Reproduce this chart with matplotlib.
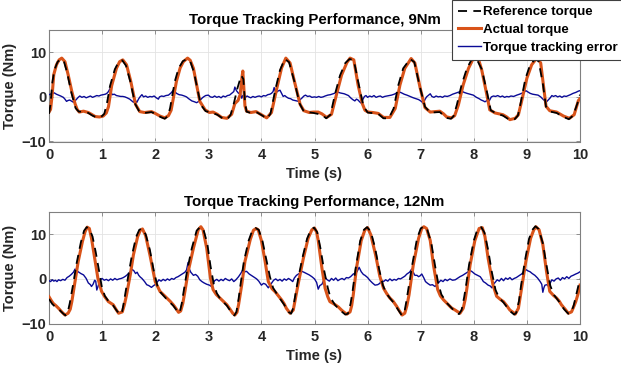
import numpy as np
import matplotlib
matplotlib.use('Agg')
import matplotlib.pyplot as plt

plt.rcParams['font.family'] = ['Liberation Sans', 'DejaVu Sans']
plt.rcParams['font.weight'] = 'bold'
plt.rcParams['font.size'] = 10.5

titles = ['Torque Tracking Performance, 9Nm', 'Torque Tracking Performance, 12Nm']
labels = ['Reference torque', 'Actual torque', 'Torque tracking error']

# (time s, torque Nm)
ref9 = np.array([
    (0, -3.8), (0.03, -1.5), (0.06, 3.0), (0.1, 6.0), (0.16, 7.8), (0.22, 8.5), (0.28, 8.0), (0.34, 5.5),
    (0.42, 1.0), (0.5, -2.5), (0.56, -3.3), (0.65, -3.3), (0.74, -3.6), (0.82, -4.2), (0.9, -4.6), (0.98, -4.5),
    (1.04, -3.8), (1.09, -1.5), (1.15, 2.5), (1.24, 6.2), (1.31, 7.8), (1.38, 8.2), (1.45, 7.0), (1.53, 3.5),
    (1.62, -1.5), (1.7, -3.3), (1.8, -3.6), (1.93, -3.4), (2.02, -3.9), (2.1, -4.5), (2.18, -4.9), (2.24, -4.3),
    (2.28, -2.5), (2.37, 3.5), (2.44, 6.4), (2.52, 8.0), (2.6, 8.5), (2.66, 8.0), (2.73, 5.5), (2.8, 1.5),
    (2.86, -1.8), (2.95, -3.2), (3.05, -3.5), (3.17, -4.0), (3.27, -4.8), (3.36, -5.0), (3.42, -4.0), (3.48, -1.5),
    (3.55, 2.0), (3.62, 4.8), (3.66, 4.0), (3.69, -1.0), (3.72, -3.3), (3.8, -3.6), (3.92, -3.5), (4.02, -4.2),
    (4.1, -4.9), (4.17, -3.8), (4.26, 1.5), (4.35, 6.0), (4.44, 8.5), (4.52, 7.8), (4.62, 3.5), (4.72, -1.5),
    (4.8, -3.3), (4.98, -3.6), (5.14, -4.0), (5.22, -4.8), (5.3, -4.0), (5.39, 0.8), (5.48, 4.8), (5.58, 7.6),
    (5.66, 8.5), (5.74, 8.2), (5.83, 3.0), (5.92, -2.0), (6.0, -3.5), (6.2, -3.8), (6.3, -4.8), (6.4, -4.8),
    (6.49, -2.6), (6.58, 2.7), (6.67, 6.4), (6.8, 8.5), (6.88, 7.8), (6.98, 2.5), (7.08, -2.2), (7.18, -3.5),
    (7.36, -3.4), (7.48, -4.7), (7.57, -4.9), (7.62, -4.3), (7.68, -1.8), (7.77, 2.7), (7.87, 6.4), (7.97, 8.6),
    (8.04, 8.8), (8.15, 6.2), (8.25, 1.0), (8.32, -3.0), (8.42, -3.7), (8.55, -4.2), (8.68, -5.2), (8.77, -5.0),
    (8.83, -4.2), (8.88, -1.5), (8.97, 4.0), (9.06, 7.2), (9.16, 8.5), (9.22, 8.0), (9.3, 3.0), (9.36, -2.2),
    (9.44, -3.3), (9.56, -3.6), (9.69, -4.5), (9.79, -5.0), (9.87, -4.2), (9.95, -1.5), (10.0, 0.5)])

act9 = np.array([
    (0, -3.4), (0.03, -2.8), (0.06, 0.5), (0.09, 5.0), (0.14, 7.2), (0.19, 8.3), (0.24, 8.7), (0.3, 7.9),
    (0.36, 5.0), (0.43, 1.2), (0.49, -1.5), (0.53, -2.8), (0.57, -3.4), (0.65, -3.2), (0.74, -3.5), (0.8, -3.9),
    (0.87, -4.4), (0.95, -4.5), (1.02, -4.3), (1.08, -3.6), (1.12, -2.2), (1.18, 2.5), (1.27, 6.4), (1.33, 7.9),
    (1.39, 8.3), (1.46, 7.2), (1.54, 3.5), (1.63, -1.7), (1.71, -3.3), (1.8, -3.5), (1.93, -3.3), (2.0, -3.7),
    (2.09, -4.3), (2.18, -4.7), (2.25, -4.2), (2.3, -3.0), (2.4, 3.5), (2.47, 6.5), (2.53, 7.9), (2.61, 8.7),
    (2.66, 8.2), (2.72, 6.4), (2.78, 2.7), (2.84, -1.0), (2.94, -2.9), (3.02, -3.5), (3.09, -3.4), (3.17, -3.9),
    (3.25, -4.6), (3.35, -4.8), (3.44, -3.9), (3.5, -1.5), (3.56, -0.8), (3.6, 0.5), (3.63, 4.0), (3.65, 5.8),
    (3.67, 2.0), (3.69, -2.0), (3.72, -3.2), (3.8, -3.5), (3.9, -3.3), (4.0, -4.0), (4.1, -4.7), (4.19, -3.5),
    (4.29, 1.9), (4.38, 6.5), (4.46, 8.7), (4.54, 7.6), (4.63, 3.1), (4.73, -1.7), (4.8, -3.1), (4.9, -3.5),
    (4.98, -3.4), (5.07, -3.4), (5.14, -3.8), (5.23, -4.6), (5.32, -3.9), (5.42, 0.8), (5.51, 4.9), (5.61, 7.7),
    (5.67, 8.7), (5.74, 8.3), (5.82, 2.7), (5.9, -1.5), (5.95, -3.0), (6.01, -3.4), (6.1, -3.5), (6.2, -3.7),
    (6.3, -4.6), (6.42, -4.6), (6.52, -2.6), (6.61, 2.7), (6.7, 6.4), (6.82, 8.6), (6.89, 7.6), (6.99, 2.0),
    (7.08, -2.4), (7.18, -3.4), (7.28, -3.3), (7.36, -3.2), (7.43, -3.8), (7.49, -4.5), (7.58, -4.7), (7.64, -4.2),
    (7.71, -1.8), (7.8, 2.7), (7.9, 6.4), (7.99, 8.6), (8.05, 8.9), (8.1, 8.0), (8.15, 6.0), (8.24, 0.8),
    (8.3, -2.9), (8.4, -3.6), (8.55, -4.0), (8.62, -4.5), (8.68, -5.1), (8.78, -4.8), (8.84, -4.0), (8.9, -1.0),
    (9.0, 4.2), (9.09, 7.2), (9.16, 8.3), (9.2, 8.6), (9.26, 7.6), (9.31, 2.7), (9.36, -2.1), (9.43, -3.1),
    (9.56, -3.4), (9.69, -4.3), (9.8, -4.8), (9.89, -4.0), (9.97, -0.8), (10.0, -0.4)])

err9 = np.array([
    (0, 0.5), (0.05, 0.7), (0.1, 0.9), (0.14, 0.6), (0.18, 0.4), (0.22, 0.2), (0.27, -0.1), (0.3, -0.5),
    (0.33, -1.0), (0.36, -0.8), (0.39, -0.7), (0.43, -1.0), (0.46, -1.2), (0.49, -0.9), (0.52, -0.5), (0.55, -0.1),
    (0.58, 0.2), (0.62, -0.1), (0.66, 0.1), (0.7, -0.2), (0.74, 0.0), (0.78, 0.2), (0.82, -0.1), (0.86, 0.1),
    (0.9, 0.3), (0.94, 0.2), (0.98, 0.4), (1.02, 0.5), (1.06, 0.6), (1.09, 0.8), (1.12, 1.2), (1.15, 1.9),
    (1.17, 1.0), (1.19, 0.5), (1.23, 0.6), (1.27, 0.3), (1.31, 0.2), (1.35, 0.1), (1.39, 0.1), (1.43, 0.0),
    (1.47, -0.2), (1.52, -0.5), (1.56, -0.9), (1.59, -1.2), (1.62, -0.6), (1.65, -1.3), (1.69, -0.4), (1.72, 0.1),
    (1.75, 0.5), (1.78, 0.0), (1.82, 0.2), (1.86, -0.1), (1.9, 0.1), (1.94, 0.0), (1.98, 0.2), (2.02, -0.2),
    (2.06, -0.5), (2.08, 0.0), (2.12, 0.2), (2.16, 0.1), (2.2, 0.3), (2.25, 0.4), (2.3, 0.9), (2.34, 1.5),
    (2.37, 1.2), (2.4, 0.8), (2.45, 0.5), (2.5, 0.4), (2.55, 0.2), (2.59, 0.0), (2.63, -0.4), (2.69, -0.9),
    (2.74, -1.1), (2.78, -1.3), (2.82, -1.0), (2.85, -0.7), (2.88, -0.3), (2.91, 0.0), (2.95, 0.3), (3.0, 0.4),
    (3.04, 0.0), (3.08, -0.1), (3.12, 0.2), (3.16, -0.1), (3.2, 0.1), (3.24, -0.2), (3.28, 0.2), (3.32, 0.0),
    (3.36, 0.3), (3.4, 0.4), (3.44, 0.8), (3.48, 1.2), (3.5, 2.2), (3.53, 1.4), (3.57, 0.8), (3.6, 0.9),
    (3.63, -0.3), (3.65, 0.3), (3.67, 0.4), (3.7, -0.1), (3.73, 0.2), (3.76, 0.0), (3.8, -0.2), (3.84, 0.1),
    (3.88, -0.1), (3.92, 0.1), (3.96, 0.2), (4.0, 0.0), (4.04, 0.3), (4.08, 0.2), (4.12, 0.5), (4.16, 0.6),
    (4.19, 0.8), (4.22, 1.2), (4.24, 2.1), (4.26, 1.3), (4.28, 1.0), (4.31, 1.3), (4.35, 1.5), (4.38, 0.8),
    (4.41, 0.1), (4.44, 0.3), (4.47, 0.0), (4.51, -0.3), (4.55, -0.4), (4.59, -0.7), (4.63, -0.8), (4.67, -0.9),
    (4.7, -1.0), (4.73, -0.6), (4.76, -0.3), (4.8, 0.2), (4.83, 0.4), (4.87, 0.1), (4.91, 0.2), (4.95, -0.1),
    (5.0, 0.0), (5.04, -0.1), (5.08, 0.1), (5.12, -0.1), (5.16, 0.0), (5.2, 0.2), (5.25, 0.4), (5.3, 0.5),
    (5.35, 0.7), (5.4, 0.9), (5.44, 1.1), (5.48, 0.9), (5.52, 0.8), (5.56, 0.7), (5.6, 0.5), (5.64, 0.3),
    (5.68, -0.2), (5.72, -0.6), (5.76, -0.9), (5.79, -0.5), (5.82, -0.7), (5.85, -1.1), (5.89, -1.5), (5.91, -0.6),
    (5.94, 0.1), (5.97, 0.3), (6.0, -0.1), (6.04, 0.2), (6.08, 0.0), (6.12, 0.3), (6.16, -0.1), (6.2, 0.1),
    (6.24, 0.2), (6.28, -0.1), (6.32, 0.1), (6.36, 0.2), (6.4, 0.3), (6.45, 0.4), (6.5, 0.6), (6.55, 0.9),
    (6.6, 1.1), (6.64, 0.9), (6.69, 0.6), (6.74, 0.4), (6.8, 0.1), (6.86, -0.2), (6.91, -0.4), (6.96, -0.6),
    (7.0, -0.9), (7.03, -1.2), (7.05, -1.5), (7.08, -0.6), (7.11, 0.0), (7.15, 0.4), (7.18, 0.7), (7.21, 0.1),
    (7.25, -0.1), (7.29, 0.2), (7.33, 0.0), (7.37, 0.1), (7.41, -0.1), (7.45, 0.2), (7.5, 0.1), (7.55, 0.3),
    (7.6, 0.6), (7.65, 0.8), (7.7, 1.0), (7.77, 1.3), (7.82, 1.0), (7.87, 0.8), (7.93, 0.6), (7.99, 0.4),
    (8.05, -0.1), (8.1, -0.4), (8.14, -0.7), (8.18, -0.9), (8.21, -1.1), (8.25, -0.8), (8.29, -0.9), (8.33, 0.0),
    (8.37, 0.2), (8.41, 0.1), (8.45, 0.3), (8.5, 0.0), (8.54, 0.2), (8.58, -0.1), (8.62, 0.1), (8.66, 0.0),
    (8.7, 0.2), (8.75, 0.1), (8.81, 0.4), (8.86, 0.6), (8.9, 0.8), (8.94, 1.0), (8.98, 1.4), (9.02, 1.1),
    (9.06, 0.8), (9.11, 0.6), (9.16, 0.5), (9.21, 0.4), (9.26, 0.0), (9.31, -0.6), (9.34, -0.9), (9.37, -1.1),
    (9.41, -0.6), (9.44, -0.2), (9.47, 0.3), (9.5, 0.1), (9.54, 0.3), (9.58, 0.0), (9.62, 0.2), (9.66, -0.1),
    (9.7, 0.2), (9.74, 0.1), (9.78, 0.3), (9.82, 0.5), (9.87, 0.8), (9.92, 1.0), (9.97, 1.3), (10.0, 1.4)])

ref12 = np.array([
    (0, -4.5), (0.06, -5.6), (0.12, -6.3), (0.2, -7.0), (0.26, -7.7), (0.31, -8.2), (0.35, -7.6), (0.39, -5.5),
    (0.45, -1.5), (0.52, 3.5), (0.6, 8.2), (0.66, 10.8), (0.71, 11.6), (0.76, 11.2), (0.82, 9.5), (0.88, 6.0),
    (0.94, 2.0), (0.99, -1.5), (1.05, -3.8), (1.12, -5.0), (1.21, -6.0), (1.28, -7.2), (1.34, -8.0), (1.38, -7.2),
    (1.42, -4.5), (1.49, 0.5), (1.56, 5.2), (1.64, 9.4), (1.7, 11.0), (1.75, 11.3), (1.82, 10.0), (1.9, 6.5),
    (1.97, 2.0), (2.04, -1.5), (2.1, -3.0), (2.22, -4.6), (2.34, -6.0), (2.42, -7.3), (2.46, -7.6), (2.5, -5.5),
    (2.54, -2.5), (2.6, 1.8), (2.69, 6.9), (2.78, 10.8), (2.85, 11.7), (2.91, 11.0), (2.98, 8.0), (3.04, 3.0),
    (3.1, -1.0), (3.16, -3.2), (3.22, -4.4), (3.35, -6.0), (3.44, -7.6), (3.49, -8.2), (3.53, -7.4), (3.57, -4.5),
    (3.61, -1.0), (3.67, 3.9), (3.76, 8.6), (3.83, 10.9), (3.89, 11.4), (3.95, 11.0), (4.02, 8.5), (4.09, 4.5),
    (4.16, 0.5), (4.22, -2.0), (4.32, -3.9), (4.43, -5.8), (4.51, -7.4), (4.56, -7.8), (4.6, -6.5), (4.64, -3.5),
    (4.7, 0.5), (4.77, 4.6), (4.86, 9.0), (4.93, 11.0), (4.99, 11.5), (5.05, 10.5), (5.11, 7.0), (5.18, 2.0),
    (5.25, -2.0), (5.3, -4.2), (5.39, -5.9), (5.5, -7.2), (5.58, -8.0), (5.63, -7.8), (5.68, -5.5), (5.72, -2.5),
    (5.77, 2.0), (5.86, 8.5), (5.93, 11.0), (5.99, 11.6), (6.06, 10.6), (6.14, 7.0), (6.22, 2.0), (6.29, -1.5),
    (6.36, -3.4), (6.48, -5.2), (6.58, -7.0), (6.64, -8.1), (6.69, -7.7), (6.73, -5.0), (6.77, -2.0), (6.84, 3.1),
    (6.93, 9.0), (7.0, 11.3), (7.06, 11.8), (7.12, 11.2), (7.2, 8.0), (7.27, 3.0), (7.33, -1.0), (7.39, -3.5),
    (7.5, -5.5), (7.62, -7.0), (7.72, -7.9), (7.77, -7.0), (7.82, -4.0), (7.86, -1.0), (7.91, 3.1), (8.0, 8.6),
    (8.07, 11.2), (8.14, 11.6), (8.2, 10.4), (8.27, 6.5), (8.34, 1.5), (8.41, -2.5), (8.48, -4.3), (8.56, -5.3),
    (8.68, -7.2), (8.76, -8.0), (8.8, -7.6), (8.85, -5.0), (8.89, -1.5), (8.96, 3.9), (9.04, 9.0), (9.11, 11.1),
    (9.16, 11.8), (9.22, 11.2), (9.3, 8.0), (9.37, 3.0), (9.44, -1.5), (9.51, -3.6), (9.6, -5.0), (9.7, -6.8),
    (9.78, -7.8), (9.83, -7.6), (9.88, -6.0), (9.93, -3.5), (10.0, 0.0)])

act12 = np.array([
    (0, -4.0), (0.04, -4.8), (0.08, -5.5), (0.13, -6.0), (0.18, -6.6), (0.24, -7.4), (0.3, -8.1), (0.36, -7.7),
    (0.4, -6.8), (0.43, -5.1), (0.49, -0.6), (0.55, 3.9), (0.63, 8.4), (0.68, 10.6), (0.72, 11.6), (0.76, 11.3),
    (0.8, 9.1), (0.85, 5.4), (0.92, 0.2), (0.99, -2.8), (1.05, -4.0), (1.12, -5.1), (1.21, -5.8), (1.26, -6.8),
    (1.31, -7.7), (1.38, -7.4), (1.42, -5.8), (1.46, -3.6), (1.53, 0.9), (1.59, 5.4), (1.67, 9.5), (1.72, 10.9),
    (1.76, 11.2), (1.82, 9.7), (1.9, 5.4), (2.0, -0.6), (2.09, -2.8), (2.16, -3.6), (2.22, -4.3), (2.28, -5.0),
    (2.34, -5.8), (2.39, -6.6), (2.44, -7.5), (2.48, -7.2), (2.52, -5.5), (2.56, -2.8), (2.62, 1.6), (2.72, 6.9),
    (2.81, 11.0), (2.86, 11.7), (2.9, 11.0), (2.97, 6.9), (3.04, 0.2), (3.09, -2.4), (3.15, -3.5), (3.22, -4.3),
    (3.28, -5.0), (3.35, -5.8), (3.41, -6.8), (3.46, -7.7), (3.5, -8.1), (3.54, -7.5), (3.57, -5.8), (3.63, -1.3),
    (3.69, 3.9), (3.79, 8.8), (3.85, 10.9), (3.9, 11.3), (3.94, 11.0), (4.0, 8.6), (4.07, 3.9), (4.13, -0.6),
    (4.2, -2.2), (4.26, -2.9), (4.32, -3.8), (4.38, -4.7), (4.43, -5.6), (4.47, -6.6), (4.54, -7.7), (4.6, -7.0),
    (4.64, -4.5), (4.69, -1.3), (4.79, 4.6), (4.88, 9.1), (4.95, 11.0), (5.0, 11.4), (5.04, 10.5), (5.07, 8.6),
    (5.14, 2.4), (5.2, -2.1), (5.25, -4.0), (5.29, -5.1), (5.35, -5.5), (5.39, -5.8), (5.45, -6.3), (5.51, -7.0),
    (5.56, -7.5), (5.61, -7.9), (5.67, -7.4), (5.7, -6.0), (5.73, -3.6), (5.79, 2.4), (5.88, 8.6), (5.95, 11.0),
    (6.0, 11.5), (6.06, 9.9), (6.15, 5.4), (6.23, 0.6), (6.3, -2.1), (6.36, -3.3), (6.42, -4.3), (6.48, -5.0),
    (6.55, -6.2), (6.6, -7.2), (6.65, -8.1), (6.7, -7.7), (6.74, -6.0), (6.78, -3.6), (6.86, 3.1), (6.96, 9.1),
    (7.02, 11.3), (7.06, 11.7), (7.11, 11.3), (7.18, 8.6), (7.24, 3.1), (7.32, -2.4), (7.37, -3.8), (7.43, -4.7),
    (7.52, -5.8), (7.58, -6.5), (7.65, -7.0), (7.74, -7.7), (7.8, -6.6), (7.84, -4.5), (7.87, -2.1), (7.93, 3.1),
    (8.02, 8.6), (8.1, 11.3), (8.16, 11.5), (8.21, 9.5), (8.27, 4.6), (8.36, -1.3), (8.43, -3.9), (8.5, -4.6),
    (8.56, -5.1), (8.62, -6.0), (8.68, -7.0), (8.74, -7.5), (8.78, -7.9), (8.84, -6.6), (8.9, -2.1), (8.98, 3.9),
    (9.07, 9.1), (9.13, 11.0), (9.17, 11.7), (9.23, 11.0), (9.3, 7.7), (9.37, 1.6), (9.43, -2.8), (9.5, -3.7),
    (9.56, -4.3), (9.61, -5.0), (9.65, -5.8), (9.72, -6.8), (9.78, -7.7), (9.84, -7.4), (9.88, -6.3), (9.92, -5.1),
    (9.96, -3.5), (10.0, -1.4)])

err12 = np.array([
    (0, -0.4), (0.03, -0.6), (0.06, -0.2), (0.09, -0.5), (0.12, -0.3), (0.15, -0.6), (0.18, -0.2), (0.22, -0.4),
    (0.26, -0.1), (0.3, -0.3), (0.34, 0.3), (0.38, 0.6), (0.42, 1.0), (0.46, 1.5), (0.49, 2.2), (0.52, 1.9),
    (0.55, 1.6), (0.6, 1.2), (0.65, 0.9), (0.7, 0.1), (0.74, -0.9), (0.78, -1.3), (0.8, -1.7), (0.83, -1.2),
    (0.86, -0.3), (0.88, -0.5), (0.9, -2.5), (0.92, -1.8), (0.94, -1.0), (0.97, -0.2), (1.0, 0.1), (1.04, -0.3),
    (1.08, -0.1), (1.12, -0.4), (1.16, 0.0), (1.2, -0.3), (1.24, 0.1), (1.28, -0.2), (1.32, 0.0), (1.36, 0.1),
    (1.4, 0.3), (1.44, 0.6), (1.48, 1.0), (1.53, 1.6), (1.57, 2.1), (1.6, 1.8), (1.63, 1.2), (1.66, 1.5),
    (1.69, 0.8), (1.72, 0.4), (1.75, 0.1), (1.8, -0.6), (1.84, -1.3), (1.88, -1.5), (1.93, -1.9), (1.97, -1.5),
    (2.01, -1.2), (2.04, -0.7), (2.07, -0.2), (2.11, -0.5), (2.15, -0.1), (2.19, -0.4), (2.23, 0.0), (2.27, -0.3),
    (2.31, 0.1), (2.35, -0.1), (2.39, 0.3), (2.43, 0.5), (2.47, 0.8), (2.52, 1.2), (2.56, 1.5), (2.59, 2.0),
    (2.62, 3.7), (2.64, 2.3), (2.67, 1.5), (2.72, 0.8), (2.76, 1.0), (2.8, 0.6), (2.84, -0.2), (2.88, -0.6),
    (2.92, -0.9), (2.97, -1.2), (3.02, -1.4), (3.06, -1.7), (3.09, -1.0), (3.12, -0.4), (3.16, -0.1), (3.2, -0.5),
    (3.24, -0.1), (3.28, -0.4), (3.32, 0.1), (3.36, -0.2), (3.4, -0.4), (3.44, 0.0), (3.48, -0.6), (3.52, -0.2),
    (3.57, 0.5), (3.61, 1.2), (3.66, 2.2), (3.69, 1.6), (3.72, 1.7), (3.77, 1.1), (3.81, 0.8), (3.86, 0.4),
    (3.91, 0.0), (3.95, -0.5), (4.0, -1.4), (4.04, -1.0), (4.08, -1.2), (4.13, -2.0), (4.16, -1.5), (4.19, -1.0),
    (4.23, -0.3), (4.27, 0.0), (4.31, -0.4), (4.35, -0.1), (4.39, -0.5), (4.43, 0.0), (4.47, -0.3), (4.51, 0.1),
    (4.55, -0.2), (4.59, -0.6), (4.62, 0.2), (4.66, 0.8), (4.71, 1.2), (4.76, 1.7), (4.8, 1.5), (4.85, 1.2),
    (4.9, 0.9), (4.95, 0.5), (5.0, 0.0), (5.04, -0.8), (5.07, -2.3), (5.1, -1.5), (5.14, -1.2), (5.17, -0.4),
    (5.2, 0.3), (5.24, -0.2), (5.28, -0.5), (5.32, 0.1), (5.36, -0.3), (5.4, 0.2), (5.44, -0.4), (5.48, -0.1),
    (5.52, 0.1), (5.56, -0.2), (5.6, 0.3), (5.64, 0.2), (5.68, 0.5), (5.73, 1.1), (5.77, 1.3), (5.8, 1.6),
    (5.84, 2.6), (5.88, 1.6), (5.92, 1.0), (5.95, 0.8), (6.0, 0.3), (6.04, -0.3), (6.09, -0.9), (6.14, -1.4),
    (6.19, -1.3), (6.23, -1.0), (6.26, -0.3), (6.3, -0.6), (6.34, -0.2), (6.38, -0.5), (6.42, 0.0), (6.46, -0.4),
    (6.5, -0.1), (6.54, -0.3), (6.58, 0.1), (6.62, 0.0), (6.66, 0.3), (6.7, 0.6), (6.74, 1.1), (6.79, 1.5),
    (6.83, 2.2), (6.86, 1.5), (6.89, 0.8), (6.93, 0.8), (6.96, 0.5), (6.99, 0.7), (7.02, 1.1), (7.06, 0.2),
    (7.09, -0.6), (7.13, -1.0), (7.18, -1.4), (7.22, -1.3), (7.27, -1.7), (7.31, -1.2), (7.34, -0.8), (7.38, -0.3),
    (7.42, -0.6), (7.46, -0.1), (7.5, -0.4), (7.55, 0.0), (7.6, -0.3), (7.65, -0.2), (7.7, 0.2), (7.74, 0.5),
    (7.79, 0.8), (7.83, 1.1), (7.88, 1.5), (7.93, 1.9), (7.97, 1.6), (8.02, 1.1), (8.07, 0.8), (8.12, 0.5),
    (8.15, 0.0), (8.18, -0.6), (8.22, -0.9), (8.27, -1.4), (8.31, -1.6), (8.34, -2.0), (8.37, -1.2), (8.4, -0.8),
    (8.44, -0.2), (8.48, -0.5), (8.52, 0.1), (8.56, -0.4), (8.6, 0.2), (8.64, -0.1), (8.68, 0.3), (8.72, -0.2),
    (8.76, 0.1), (8.8, 0.3), (8.85, 0.7), (8.9, 1.1), (8.94, 1.6), (8.98, 2.1), (9.02, 1.8), (9.06, 1.6),
    (9.1, 1.2), (9.15, 0.8), (9.2, 0.2), (9.25, -0.6), (9.28, -1.2), (9.3, -3.0), (9.32, -2.0), (9.34, -1.4),
    (9.38, -1.3), (9.41, -1.7), (9.44, -0.9), (9.47, -0.2), (9.51, -0.5), (9.55, 0.0), (9.59, 0.2), (9.63, -0.3),
    (9.67, 0.3), (9.71, 0.0), (9.75, 0.5), (9.79, 0.1), (9.83, 0.6), (9.87, 0.8), (9.92, 1.1), (9.96, 1.3),
    (10.0, 1.6)])

x_ticks = list(range(0, 11))
y_ticks = [-10, 0, 10]


def draw_panel(ax, ref, act, err, title):
    ax.plot(ref[:, 0], ref[:, 1], color='black', lw=1.3, dashes=(5, 3.5), zorder=5, label=labels[0])
    ax.plot(act[:, 0], act[:, 1], color='#D95319', lw=2.2, zorder=4, label=labels[1])
    ax.plot(err[:, 0], err[:, 1], color='#0A0A96', lw=1.0, zorder=3, label=labels[2])
    ax.set_xlim(0, 10)
    ax.set_ylim(-10, 15)
    ax.set_xticks(x_ticks)
    ax.set_yticks(y_ticks)
    ax.grid(color='#e3e3e3', lw=0.6)
    ax.set_axisbelow(True)
    ax.tick_params(direction='in', top=True, right=True, length=3, width=0.6,
                   color='#808080', labelcolor='#262626')
    ax.tick_params(axis='x', pad=5)
    ax.tick_params(axis='y', pad=2)
    for s in ax.spines.values():
        s.set_color('#808080')
        s.set_linewidth(0.8)
    ax.set_title(title, fontweight='bold', fontsize=10.8, pad=4, color='black')
    ax.set_xlabel('Time (s)', fontweight='bold', labelpad=3, color='#262626')
    ax.set_ylabel('Torque (Nm)', fontweight='bold', labelpad=3, color='#262626')


def main():
    fig = plt.figure(figsize=(6.21, 3.70), dpi=100)
    ax1 = fig.add_axes([49 / 621, 1 - 141.5 / 370, 531 / 621, 111.5 / 370])
    ax2 = fig.add_axes([49 / 621, 1 - 323.5 / 370, 531 / 621, 111.5 / 370])
    draw_panel(ax1, ref9, act9, err9, titles[0])
    draw_panel(ax2, ref12, act12, err12, titles[1])

    handles, names = ax1.get_legend_handles_labels()
    leg = fig.legend(handles, names, loc='upper left', bbox_to_anchor=(452 / 621, 1.0),
                     fontsize=9.6, frameon=True, fancybox=False, framealpha=1,
                     edgecolor='#404040', borderaxespad=0, borderpad=0.45,
                     labelspacing=0.4, handlelength=1.7, handletextpad=0.2)
    leg.get_frame().set_linewidth(0.8)

    fig.savefig('out.png', dpi=100)
    plt.close(fig)


if __name__ == "__main__":
    main()
